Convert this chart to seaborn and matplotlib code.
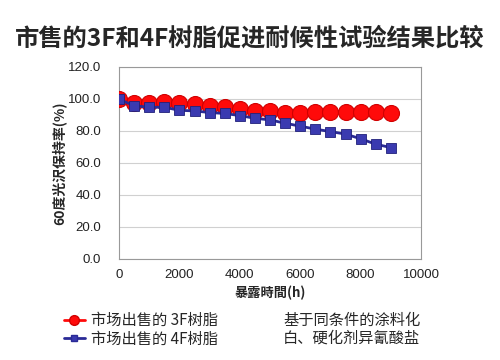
import matplotlib
matplotlib.use("Agg")
import matplotlib.pyplot as plt
import seaborn as sns
import pandas as pd
from matplotlib.lines import Line2D

hours = [0, 500, 1000, 1500, 2000, 2500, 3000, 3500, 4000, 4500,
         5000, 5500, 6000, 6500, 7000, 7500, 8000, 8500, 9000]
resin_3f = [100.0, 97.7, 97.7, 98.1, 97.3, 96.7, 95.6, 95.0, 93.8, 92.7,
            92.3, 91.3, 91.5, 91.9, 92.1, 91.9, 91.9, 91.7, 91.5]
resin_4f = [99.8, 95.8, 94.8, 94.8, 92.9, 92.5, 91.5, 90.9, 89.6, 87.9,
            86.9, 84.8, 83.0, 81.1, 79.6, 78.0, 75.1, 71.7, 69.6]
series_names = ["市场出售的 3F树脂", "市场出售的 4F树脂"]
note_lines = ["基于同条件的涂料化", "白、硬化剂异氰酸盐"]
yticks = [0, 20, 40, 60, 80, 100, 120]
xticks = [0, 2000, 4000, 6000, 8000, 10000]

df = pd.DataFrame({
    "h": hours * 2,
    "v": resin_3f + resin_4f,
    "s": [series_names[0]] * len(hours) + [series_names[1]] * len(hours),
})

sns.set_theme(style="white")
plt.rcParams['font.family'] = ['Liberation Sans', 'Noto Sans CJK SC', 'DejaVu Sans']
cjk = ['Noto Sans CJK SC', 'DejaVu Sans']

fig = plt.figure(figsize=(5, 3.6), dpi=100)
ax = fig.add_axes([0.238, 0.281, 0.604, 0.533])

red = "#FF0A0A"
blue = "#2A2A96"
sns.lineplot(data=df[df.s == series_names[0]], x="h", y="v", ax=ax, color=red,
             marker="o", markersize=11.5, markeredgecolor="#D00000", markeredgewidth=0.8,
             linewidth=2, legend=False, zorder=3)
sns.lineplot(data=df[df.s == series_names[1]], x="h", y="v", ax=ax, color=blue,
             marker="s", markersize=6.5, markerfacecolor="#3A3AB0", markeredgecolor="#20207A",
             markeredgewidth=0.6, linewidth=2, legend=False, zorder=4)

ax.set_xlim(0, 10000)
ax.set_ylim(0, 120)
ax.set_yticks(yticks)
ax.set_yticklabels([f"{t:.1f}" for t in yticks])
ax.set_xticks(xticks)
ax.set_xticklabels([str(t) for t in xticks])
ax.tick_params(axis="both", labelsize=9.5, colors="#222222", length=0)
ax.tick_params(axis="y", pad=13)
ax.tick_params(axis="x", pad=7)
ax.grid(axis="y", color="#D0D0D0", linewidth=0.8)
for sp in ax.spines.values():
    sp.set_color("#999999")
    sp.set_linewidth(0.8)

ax.set_xlabel("暴露時間(h)", fontsize=9.5, fontweight="bold", family=cjk, labelpad=4)
ax.set_ylabel("60度光沢保持率(%)", fontsize=10, fontweight="bold", family=cjk, labelpad=1)

fig.text(0.5, 0.893, "市售的3F和4F树脂促进耐候性试验结果比较", ha="center", va="center",
         fontsize=17.5, fontweight="bold", family=cjk)

handles = [
    Line2D([], [], color=red, marker="o", markersize=7, markeredgecolor="#D00000", linewidth=2),
    Line2D([], [], color=blue, marker="s", markersize=5, markerfacecolor="#3A3AB0", linewidth=2),
]
fig.legend(handles, series_names, loc="upper left", bbox_to_anchor=(0.115, 0.15),
           frameon=False, handlelength=1.4, handletextpad=0.4,
           labelspacing=0.1, borderaxespad=0,
           prop={'family': cjk, 'size': 11})
fig.text(0.566, 0.111, note_lines[0], ha="left", va="center", fontsize=11, family=cjk)
fig.text(0.566, 0.061, note_lines[1], ha="left", va="center", fontsize=11, family=cjk)

fig.savefig("out.png", dpi=100)
